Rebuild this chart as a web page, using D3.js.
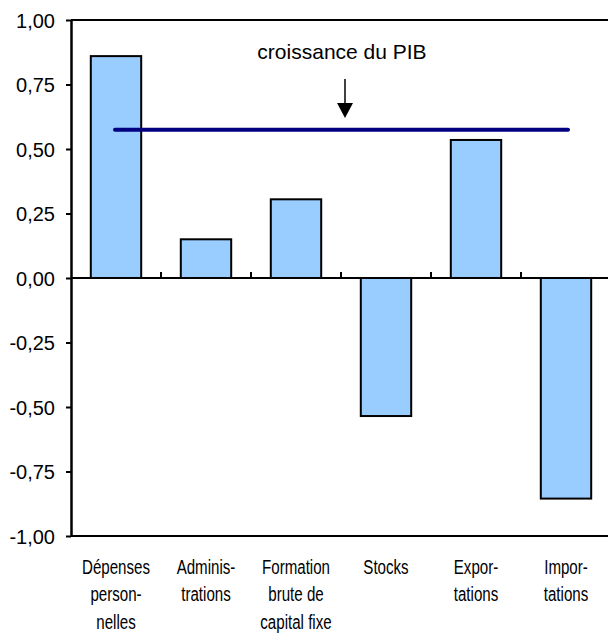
<!DOCTYPE html>
<html>
<head>
<meta charset="utf-8">
<script src="https://cdn.jsdelivr.net/npm/d3@7"></script>
<style>
  body { margin: 0; background: #fff; }
  svg { display: block; }
</style>
</head>
<body>
<div id="chart"></div>
<script>
// contributions à la croissance du PIB, points de pourcentage
const categories = [
  ["Dépenses", "person-", "nelles"],
  ["Adminis-", "trations"],
  ["Formation", "brute de", "capital fixe"],
  ["Stocks"],
  ["Expor-", "tations"],
  ["Impor-", "tations"]
];
const values = [0.86, 0.15, 0.305, -0.535, 0.535, -0.855];
const gdpGrowth = 0.575;
const yTicks = [1, 0.75, 0.5, 0.25, 0, -0.25, -0.5, -0.75, -1];

const width = 608, height = 635;
const margin = { top: 20, left: 71, right: -3, bottom: 99 };
const plotW = width - margin.left - margin.right;
const plotH = height - margin.top - margin.bottom;

const svg = d3.select("#chart")
  .append("svg")
  .attr("width", width)
  .attr("height", height);

const g = svg.append("g")
  .attr("transform", "translate(" + margin.left + "," + margin.top + ")");

const x = d3.scaleBand()
  .domain(d3.range(categories.length))
  .range([0, plotW])
  .paddingInner(0.44)
  .paddingOuter(0.22);

const y = d3.scaleLinear().domain([-1, 1]).range([plotH, 0]);

// category slots (for zero-line ticks and label centers)
const step = plotW / categories.length;
const slotCenter = (i) => step * i + step / 2;

// bars
g.selectAll("rect.bar")
  .data(values)
  .enter()
  .append("rect")
  .attr("class", "bar")
  .attr("x", (d, i) => slotCenter(i) - x.bandwidth() / 2)
  .attr("width", x.bandwidth())
  .attr("y", (d) => y(Math.max(0, d)))
  .attr("height", (d) => Math.abs(y(d) - y(0)))
  .attr("fill", "#99ccff")
  .attr("stroke", "#000")
  .attr("stroke-width", 2);

// top and bottom borders
[0, plotH].forEach((yy) => {
  g.append("line")
    .attr("x1", 0).attr("x2", plotW)
    .attr("y1", yy).attr("y2", yy)
    .attr("stroke", "#000").attr("stroke-width", 2);
});

// zero line with ticks between categories
g.append("line")
  .attr("x1", 0).attr("x2", plotW)
  .attr("y1", y(0)).attr("y2", y(0))
  .attr("stroke", "#000").attr("stroke-width", 2);

g.selectAll("line.ztick")
  .data(d3.range(1, categories.length))
  .enter()
  .append("line")
  .attr("class", "ztick")
  .attr("x1", (d) => step * d).attr("x2", (d) => step * d)
  .attr("y1", y(0)).attr("y2", y(0) - 6)
  .attr("stroke", "#000").attr("stroke-width", 2);

// y axis
const yAxis = g.append("g")
  .call(d3.axisLeft(y)
    .tickValues(yTicks)
    .tickSize(5)
    .tickSizeOuter(0)
    .tickFormat((d) => d3.format(".2f")(d).replace(".", ",").replace("−", "-")));

yAxis.select(".domain").attr("stroke-width", 2.5);
yAxis.selectAll(".tick line").attr("stroke-width", 2);
yAxis.selectAll(".tick text")
  .attr("x", -16)
  .attr("dy", "0.36em")
  .style("font-family", "'Liberation Sans', Arial, sans-serif")
  .style("font-size", "20px")
  .attr("fill", "#000");

// GDP growth line
g.append("line")
  .attr("x1", slotCenter(0) - 1)
  .attr("x2", slotCenter(categories.length - 1) + 2)
  .attr("y1", y(gdpGrowth)).attr("y2", y(gdpGrowth))
  .attr("stroke", "#000080")
  .attr("stroke-width", 4)
  .attr("stroke-linecap", "round");

// annotation
const annX = 274;
g.append("text")
  .attr("x", 271)
  .attr("y", 39)
  .attr("text-anchor", "middle")
  .style("font-family", "'Liberation Sans', Arial, sans-serif")
  .style("font-size", "21px")
  .text("croissance du PIB");

g.append("line")
  .attr("x1", annX).attr("x2", annX)
  .attr("y1", 59).attr("y2", 86)
  .attr("stroke", "#000").attr("stroke-width", 1.5);

g.append("path")
  .attr("d", d3.line()([[annX - 8, 83], [annX + 8, 83], [annX, 98]]) + "Z")
  .attr("fill", "#000");

// category labels (condensed look via horizontal scale)
const labels = g.selectAll("text.cat")
  .data(categories)
  .enter()
  .append("text")
  .attr("class", "cat")
  .attr("text-anchor", "middle")
  .attr("transform", (d, i) => "translate(" + slotCenter(i) + "," + (plotH + 38) + ") scale(0.72,1)")
  .style("font-family", "'Liberation Sans', Arial, sans-serif")
  .style("font-size", "21px");

labels.selectAll("tspan")
  .data((d) => d)
  .enter()
  .append("tspan")
  .attr("x", 0)
  .attr("dy", (d, i) => (i === 0 ? 0 : 27.5))
  .text((d) => d);
</script>
</body>
</html>
